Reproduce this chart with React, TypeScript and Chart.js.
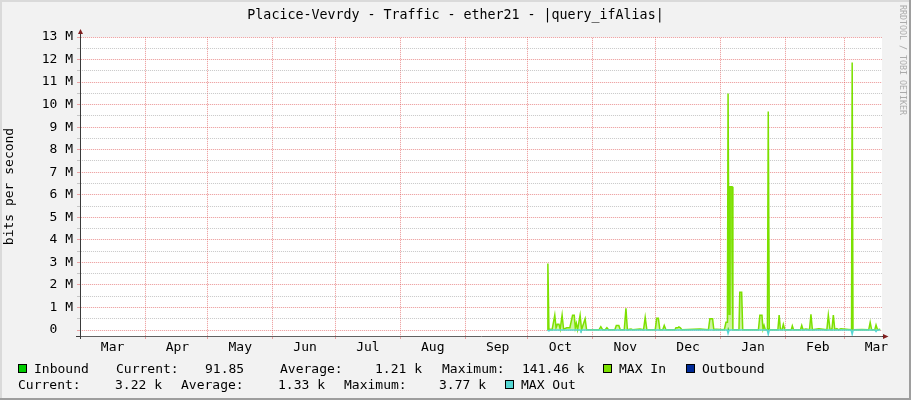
import React, { useEffect, useRef } from 'react';
import { Chart, registerables } from 'chart.js';

Chart.register(...registerables);

// ---------- text ----------
const titleText = 'Placice-Vevrdy - Traffic - ether21 - |query_ifAlias|';
const yAxisTitle = 'bits per second';
const watermarkText = 'RRDTOOL / TOBI OETIKER';

// ---------- x axis (days counted from 1 April) ----------
const monthStartDays = [0, 30, 61, 91, 122, 153, 183, 214, 244, 275, 306, 334];
const monthLabelDays = [-15.5, 15.5, 45.5, 76.5, 106.5, 137.5, 168.5, 198.5, 229.5, 259.5, 290.5, 321.5, 349.5];
const monthLabels = ['Mar', 'Apr', 'May', 'Jun', 'Jul', 'Aug', 'Sep', 'Oct', 'Nov', 'Dec', 'Jan', 'Feb', 'Mar'];
const xMin = -31.06;
const xMax = 352.15;

// ---------- y axis (Mbit/s) ----------
const yMajorTicks = [0, 1, 2, 3, 4, 5, 6, 7, 8, 9, 10, 11, 12, 13];
const yMinorTicks = [0.5, 1.5, 2.5, 3.5, 4.5, 5.5, 6.5, 7.5, 8.5, 9.5, 10.5, 11.5, 12.5];
const yMin = -0.266;
const yMax = 13;

// ---------- series (Mbit/s) ----------
const maxInDays = [
  192.3, 192.5, 193.0, 194.5, 195.8, 196.4, 197.0, 197.8, 198.4, 199.3, 200.0, 201.5, 203.0, 204.3, 205.1,
  205.6, 206.1, 206.7, 207.9, 208.6, 210.3, 211.0, 216.9, 217.8, 218.7, 219.9, 220.7, 221.5, 224.5, 225.2,
  226.4, 227.1, 229.0, 229.8, 230.5, 232.2, 233.0, 236.5, 238.2, 239.0, 239.8, 243.8, 244.5, 245.3, 246.0,
  247.4, 248.1, 248.9, 253.2, 253.7, 254.6, 255.1, 255.8, 256.5, 265.2, 269.2, 269.9, 271.2, 271.8, 272.8,
  276.8, 277.6, 278.3, 278.6, 279.1, 279.5, 280.5, 280.9, 283.8, 284.2, 285.1, 285.6, 293.1, 293.8, 294.8,
  295.3, 295.8, 296.4, 297.4, 297.8, 298.3, 302.4, 303.0, 303.6, 304.4, 305.0, 305.7, 308.8, 309.3, 309.9,
  313.2, 313.8, 314.4, 315.8, 317.5, 318.2, 318.9, 322.0, 325.8, 326.5, 327.3, 328.2, 328.9, 329.6, 330.6,
  331.4, 332.5, 337.6, 337.9, 338.3, 342.6, 345.8, 346.5, 347.2, 348.7, 349.3, 350.0, 351.3,
];
const maxInValues = [
  0, 2.95, 0.04, 0.01, 0.66, 0.1, 0.25, 0.25, 0.04, 0.66, 0.04, 0.1, 0.1, 0.66, 0.66,
  0.1, 0.3, 0.02, 0.66, 0.02, 0.5, 0.01, 0.01, 0.15, 0.01, 0.01, 0.1, 0.01, 0.01, 0.2,
  0.2, 0.01, 0.01, 0.96, 0.01, 0.04, 0.01, 0.04, 0.01, 0.56, 0.01, 0.01, 0.52, 0.52, 0.01,
  0.01, 0.2, 0.01, 0.01, 0.1, 0.1, 0.14, 0.1, 0.01, 0.04, 0.01, 0.5, 0.5, 0.01, 0.03,
  0.01, 0.34, 0.34, 10.49, 0.7, 6.36, 6.36, 0.01, 0.01, 1.67, 1.67, 0.01, 0.01, 0.66, 0.66,
  0.04, 0.2, 0.01, 0.01, 9.69, 0.01, 0.01, 0.66, 0.04, 0.01, 0.25, 0.01, 0.01, 0.18, 0.01,
  0.01, 0.2, 0.01, 0.04, 0.01, 0.7, 0.01, 0.06, 0.01, 0.66, 0.04, 0.01, 0.66, 0.01, 0.06,
  0.01, 0.06, 0.01, 11.87, 0.01, 0.02, 0.01, 0.34, 0.01, 0.01, 0.22, 0.01, 0.04,
];

const inboundDays = [192.3, 278.3, 278.6, 279.1, 297.4, 297.8, 298.3, 337.6, 337.9, 338.3, 351.3];
const inboundValues = [0.001, 0.001, 0.14, 0.001, 0.001, 0.1, 0.001, 0.001, 0.12, 0.001, 0.001];

const outboundDays = [192.3, 351.3];
const outboundValues = [-0.002, -0.002];

const maxOutDays = [
  192.3, 193.0, 193.6, 207.9, 208.3, 208.8, 278.2, 278.6, 279.1, 297.3, 297.8, 298.3, 337.4, 337.9, 338.4,
  348.8, 349.3, 349.8, 351.3,
];
const maxOutValues = [
  -0.005, -0.04, -0.005, -0.005, -0.06, -0.005, -0.005, -0.15, -0.005, -0.005, -0.19, -0.005, -0.005, -0.19, -0.005,
  -0.005, -0.07, -0.005, -0.005,
];

// ---------- legend ----------
const legendNames = ['Inbound', 'MAX In', 'Outbound', 'MAX Out'];
const legendColors = ['#00CC00', '#7CE000', '#002A97', '#55D6D3'];
const inboundStats = ['91.85', '1.21 k', '141.46 k'];
const outboundStats = ['3.22 k', '1.33 k', '3.77 k'];

const COL_MAXIN = '#7CE000';
const MGRID_ON = 'rgba(222,79,79,0.5)';
const MGRID_OFF = 'rgba(222,79,79,0.1)';
const GRID_ON = 'rgba(143,143,143,0.45)';
const GRID_OFF = 'rgba(143,143,143,0.04)';
const FONT = '"DejaVu Sans Mono", monospace';

const pts = (xs: number[], ys: number[]) => xs.map((x, i) => ({ x, y: ys[i] }));

const isMonthStart = (v: number) => monthStartDays.some((d) => Math.abs(d - v) < 1e-6);
const isMajorY = (v: number) => yMajorTicks.some((d) => Math.abs(d - v) < 1e-6);

// 2x2 checker used as a dotted stroke for the grid lines
const makeDots = (host: CanvasRenderingContext2D, on: string, off: string) => {
  const c = document.createElement('canvas');
  c.width = 2;
  c.height = 2;
  const g = c.getContext('2d') as CanvasRenderingContext2D;
  g.fillStyle = off;
  g.fillRect(0, 0, 2, 2);
  g.clearRect(0, 0, 1, 1);
  g.clearRect(1, 1, 1, 1);
  g.fillStyle = on;
  g.fillRect(0, 0, 1, 1);
  g.fillRect(1, 1, 1, 1);
  return host.createPattern(c, 'repeat') as CanvasPattern;
};

const frame = {
  id: 'rrdFrame',
  beforeDraw(chart: any) {
    const { ctx, chartArea: a } = chart;
    ctx.save();
    ctx.fillStyle = '#FFFFFF';
    ctx.fillRect(a.left, a.top, a.right - a.left, a.bottom - a.top);
    ctx.restore();
  },
  afterDraw(chart: any) {
    const { ctx, chartArea: a } = chart;
    ctx.save();
    ctx.setLineDash([]);
    ctx.strokeStyle = '#3A3A3A';
    ctx.lineWidth = 1;
    ctx.beginPath();
    ctx.moveTo(a.left + 0.5, a.top);
    ctx.lineTo(a.left + 0.5, a.top - 4);
    ctx.moveTo(a.left - 4, a.bottom + 0.5);
    ctx.lineTo(a.left, a.bottom + 0.5);
    ctx.moveTo(a.right, a.bottom + 0.5);
    ctx.lineTo(a.right + 2, a.bottom + 0.5);
    ctx.moveTo(a.left + 0.5, a.bottom);
    ctx.lineTo(a.left + 0.5, a.bottom + 3);
    ctx.stroke();
    ctx.fillStyle = '#801F1F';
    ctx.beginPath();
    ctx.moveTo(a.left - 2, a.top - 3);
    ctx.lineTo(a.left + 3, a.top - 3);
    ctx.lineTo(a.left + 0.5, a.top - 8);
    ctx.closePath();
    ctx.fill();
    ctx.beginPath();
    ctx.moveTo(a.right + 1, a.bottom - 2);
    ctx.lineTo(a.right + 1, a.bottom + 3);
    ctx.lineTo(a.right + 6.5, a.bottom + 0.5);
    ctx.closePath();
    ctx.fill();
    ctx.restore();
  },
};

const Box = ({ x, y, color }: { x: number; y: number; color: string }) => (
  <div
    style={{
      position: 'absolute',
      left: x,
      top: y,
      width: 7,
      height: 7,
      background: color,
      border: '1px solid #000',
    }}
  />
);

const T = ({ x, y, children }: { x: number; y: number; children: React.ReactNode }) => (
  <span
    style={{
      position: 'absolute',
      left: x,
      top: y,
      fontFamily: FONT,
      fontSize: 13,
      lineHeight: '15px',
      color: '#000',
      whiteSpace: 'pre',
    }}
  >
    {children}
  </span>
);

export default function App() {
  const ref = useRef<HTMLCanvasElement>(null);

  useEffect(() => {
    const canvas = ref.current;
    if (!canvas) return;
    const host = canvas.getContext('2d') as CanvasRenderingContext2D;
    const mDots = makeDots(host, MGRID_ON, MGRID_OFF);
    const gDots = makeDots(host, GRID_ON, GRID_OFF);
    const xTicks = [...monthStartDays, ...monthLabelDays].sort((a, b) => a - b);
    const yTicks = [...yMajorTicks, ...yMinorTicks].sort((a, b) => a - b);
    const xGridColors = xTicks.map((v) => (isMonthStart(v) ? mDots : 'rgba(0,0,0,0)'));
    const xTickColors = xTicks.map((v) => (isMonthStart(v) ? MGRID_ON : 'rgba(0,0,0,0)'));
    const yGridColors = yTicks.map((v) => (isMajorY(v) ? mDots : gDots));
    const yTickColors = yTicks.map((v) => (isMajorY(v) ? MGRID_ON : GRID_ON));

    const chart = new Chart(canvas, {
      type: 'line',
      data: {
        datasets: [
          {
            label: legendNames[3],
            data: pts(maxOutDays, maxOutValues),
            borderColor: legendColors[3],
            borderWidth: 1.5,
            pointRadius: 0,
            fill: false,
            order: 0,
          },
          {
            label: legendNames[1],
            data: pts(maxInDays, maxInValues),
            borderColor: COL_MAXIN,
            borderWidth: 1.5,
            pointRadius: 0,
            fill: 'origin',
            order: 1,
            backgroundColor: (ctx: any) => {
              const c = ctx.chart;
              const a = c.chartArea;
              if (!a) return COL_MAXIN;
              const y0 = c.scales.y.getPixelForValue(0);
              const g = c.ctx.createLinearGradient(0, a.top, 0, y0);
              g.addColorStop(0, 'rgba(124,224,0,1)');
              g.addColorStop(0.7, 'rgba(124,224,0,0.8)');
              g.addColorStop(1, 'rgba(124,224,0,0.35)');
              return g;
            },
          },
          {
            label: legendNames[0],
            data: pts(inboundDays, inboundValues),
            borderColor: legendColors[0],
            backgroundColor: legendColors[0],
            borderWidth: 0,
            pointRadius: 0,
            fill: 'origin',
            order: 2,
          },
          {
            label: legendNames[2],
            data: pts(outboundDays, outboundValues),
            borderColor: legendColors[2],
            backgroundColor: legendColors[2],
            borderWidth: 0,
            pointRadius: 0,
            fill: 'origin',
            order: 3,
          },
        ],
      },
      options: {
        animation: false,
        responsive: false,
        devicePixelRatio: 1,
        events: [],
        layout: { padding: { left: 0, right: 29, top: 37, bottom: 0 } },
        plugins: {
          legend: { display: false },
          title: { display: false },
          tooltip: { enabled: false },
        },
        elements: { line: { tension: 0 } },
        scales: {
          x: {
            type: 'linear',
            min: xMin,
            max: xMax,
            bounds: 'data',
            afterBuildTicks: (scale: any) => {
              scale.ticks = xTicks.map((v) => ({ value: v }));
            },
            afterFit: (scale: any) => {
              scale.height = 64;
            },
            ticks: {
              autoSkip: false,
              maxRotation: 0,
              minRotation: 0,
              padding: 1,
              color: '#000',
              font: { family: FONT, size: 13 },
              callback: (v: any) => {
                const i = monthLabelDays.indexOf(Number(v));
                return i >= 0 ? monthLabels[i] : '';
              },
            },
            grid: {
              color: xGridColors,
              tickColor: xTickColors,
              lineWidth: 1,
              tickLength: 3,
              drawTicks: true,
            },
            border: { display: true, color: '#606060', width: 1 },
          },
          y: {
            type: 'linear',
            min: yMin,
            max: yMax,
            bounds: 'data',
            afterBuildTicks: (scale: any) => {
              scale.ticks = yTicks.map((v) => ({ value: v }));
            },
            afterFit: (scale: any) => {
              scale.width = 80;
            },
            title: {
              display: true,
              text: yAxisTitle,
              color: '#000',
              font: { family: FONT, size: 13 },
              padding: { top: 2, bottom: 0 },
            },
            ticks: {
              autoSkip: false,
              padding: 4,
              color: '#000',
              font: { family: FONT, size: 13 },
              callback: (v: any) => {
                const n = Number(v);
                if (!isMajorY(n)) return '';
                return n === 0 ? '0  ' : `${n} M`;
              },
            },
            grid: {
              color: yGridColors,
              tickColor: yTickColors,
              lineWidth: 1,
              tickLength: 3,
              drawTicks: true,
            },
            border: { display: true, color: '#3A3A3A', width: 1 },
          },
        },
      },
      plugins: [frame],
    } as any);
    return () => chart.destroy();
  }, []);

  return (
    <div
      style={{
        position: 'fixed',
        left: 0,
        top: 0,
        width: 911,
        height: 400,
        background: '#F2F2F2',
        overflow: 'hidden',
      }}
    >
      <canvas ref={ref} width={911} height={400} style={{ position: 'absolute', left: 0, top: 0, display: 'block' }} />
      <div style={{ position: 'absolute', left: 0, top: 0, width: 2, height: 400, background: '#DADADA' }} />
      <div style={{ position: 'absolute', left: 0, top: 0, width: 911, height: 2, background: '#DADADA' }} />
      <div style={{ position: 'absolute', left: 909, top: 0, width: 2, height: 400, background: '#9E9E9E' }} />
      <div style={{ position: 'absolute', left: 0, top: 398, width: 911, height: 2, background: '#9E9E9E' }} />

      <div
        style={{
          position: 'absolute',
          left: 0,
          top: 7,
          width: 911,
          textAlign: 'center',
          fontFamily: FONT,
          fontSize: 13.3,
          lineHeight: '15px',
          color: '#000',
          whiteSpace: 'pre',
        }}
      >
        {titleText}
      </div>

      <div
        style={{
          position: 'absolute',
          left: 898,
          top: 5,
          writingMode: 'vertical-rl',
          fontFamily: FONT,
          fontSize: 8.3,
          lineHeight: '10px',
          color: '#ABABAB',
          whiteSpace: 'pre',
        }}
      >
        {watermarkText}
      </div>

      <Box x={18} y={364} color={legendColors[0]} />
      <T x={34} y={361}>{legendNames[0]}</T>
      <T x={116} y={361}>Current:</T>
      <T x={205} y={361}>{inboundStats[0]}</T>
      <T x={280} y={361}>Average:</T>
      <T x={375} y={361}>{inboundStats[1]}</T>
      <T x={442} y={361}>Maximum:</T>
      <T x={522} y={361}>{inboundStats[2]}</T>
      <Box x={603} y={364} color={legendColors[1]} />
      <T x={619} y={361}>{legendNames[1]}</T>
      <Box x={686} y={364} color={legendColors[2]} />
      <T x={702} y={361}>{legendNames[2]}</T>

      <T x={18} y={377}>Current:</T>
      <T x={115} y={377}>{outboundStats[0]}</T>
      <T x={181} y={377}>Average:</T>
      <T x={278} y={377}>{outboundStats[1]}</T>
      <T x={344} y={377}>Maximum:</T>
      <T x={439} y={377}>{outboundStats[2]}</T>
      <Box x={505} y={380} color={legendColors[3]} />
      <T x={521} y={377}>{legendNames[3]}</T>
    </div>
  );
}
